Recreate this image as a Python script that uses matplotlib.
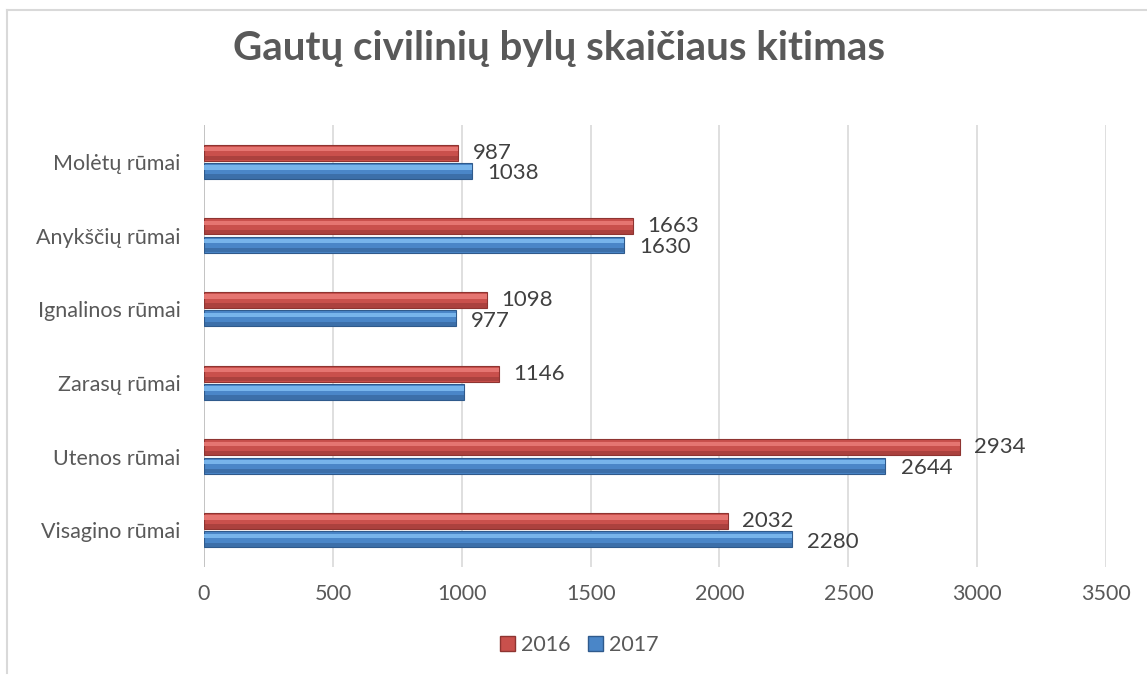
import matplotlib
matplotlib.use("Agg")
import matplotlib.pyplot as plt
from matplotlib.patches import Patch
from matplotlib.lines import Line2D
import numpy as np

plt.rcParams['font.family'] = ['Lato', 'DejaVu Sans']

# data, bottom to top as drawn
courts = ['Visagino rūmai', 'Utenos rūmai', 'Zarasų rūmai',
          'Ignalinos rūmai', 'Anykščių rūmai', 'Molėtų rūmai']
cases_2016 = [2032, 2934, 1146, 1098, 1663, 987]
cases_2017 = [2280, 2644, 1008, 977, 1630, 1038]
labels_2016 = ['2032', '2934', '1146', '1098', '1663', '987']
labels_2017 = ['2280', '2644', '', '977', '1630', '1038']
years = ['2016', '2017']

text_col = '#595959'
red = '#C9504C'
red_hi = '#EB7C78'
red_dk = '#8E3431'
blue = '#4A86C8'
blue_hi = '#80BDF2'
blue_dk = '#2F5A8C'

fig = plt.figure(figsize=(11.47, 6.75), dpi=100)
ax = fig.add_axes([0.1779, 0.16, 0.7864, 0.6548])

y = np.arange(len(courts))
h = 0.22
off = 0.125

def bevel_bars(pos, vals, base, hi, dk):
    ax.barh(pos, vals, height=h, color=base, edgecolor=dk, linewidth=0.8, zorder=3)
    # lighter upper band and darker lower band to mimic the bevel look
    ax.barh(pos + h * 0.22, vals, height=h * 0.26, color=hi, linewidth=0, alpha=0.85, zorder=4)
    ax.barh(pos - h * 0.34, vals, height=h * 0.26, color=dk, linewidth=0, alpha=0.5, zorder=4)

bevel_bars(y + off, cases_2016, red, red_hi, red_dk)
bevel_bars(y - off, cases_2017, blue, blue_hi, blue_dk)

for yy, v, s in zip(y + off, cases_2016, labels_2016):
    ax.text(v + 55, yy, s, va='center', ha='left', fontsize=16, color='#404040', zorder=5)
for yy, v, s in zip(y - off, cases_2017, labels_2017):
    ax.text(v + 60, yy - 0.03, s, va='center', ha='left', fontsize=16, color='#404040', zorder=5)

ax.set_xlim(0, 3500)
ax.set_ylim(-0.5, 5.5)
ax.set_xticks(np.arange(0, 3501, 500))
ax.set_yticks(y)
ax.set_yticklabels(courts)
ax.tick_params(axis='both', length=0, labelsize=15.5, colors=text_col)
ax.tick_params(axis='y', pad=17)
ax.tick_params(axis='x', pad=12)
ax.grid(axis='x', color='#D9D9D9', linewidth=1.2, zorder=0)
for sp in ax.spines.values():
    sp.set_visible(False)
ax.axvline(0, color='#BFBFBF', linewidth=1.2, zorder=2)

fig.text(0.487, 0.928, 'Gautų civilinių bylų skaičiaus kitimas', ha='center', va='center',
         fontsize=29, fontweight='bold', color=text_col)

handles = [Patch(facecolor=red, edgecolor=red_dk), Patch(facecolor=blue, edgecolor=blue_dk)]
fig.legend(handles, years, loc='center', bbox_to_anchor=(0.505, 0.045), ncol=2, frameon=False,
           fontsize=15.5, labelcolor=text_col, handlelength=0.7, handleheight=0.7,
           handletextpad=0.3, columnspacing=0.8)

# chart area border (left and top edges visible)
fig.add_artist(Line2D([0.0065, 0.0065], [0.003, 0.985], color='#D9D9D9', linewidth=1.5,
                      transform=fig.transFigure))
fig.add_artist(Line2D([0.0065, 1.0], [0.985, 0.985], color='#D9D9D9', linewidth=1.5,
                      transform=fig.transFigure))

fig.savefig('out.png', dpi=100)
